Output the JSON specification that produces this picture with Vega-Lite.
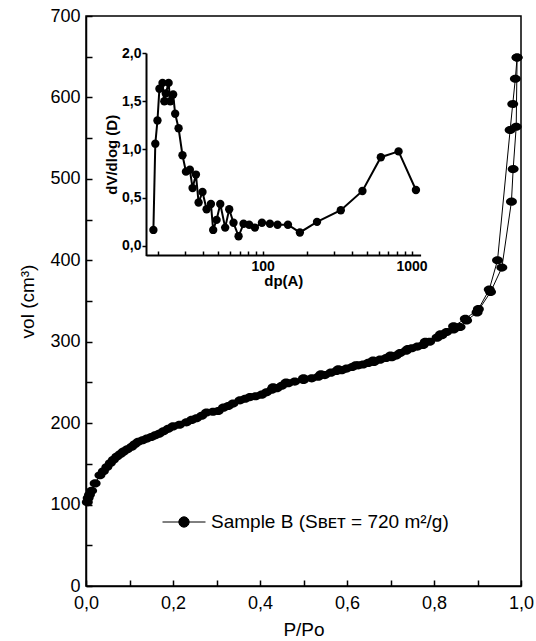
{
  "$schema": "https://vega.github.io/schema/vega-lite/v6.json",
  "autosize": "none",
  "width": 435,
  "height": 570,
  "padding": {"left": 86, "top": 16, "right": 15, "bottom": 55},
  "background": "white",
  "config": {
    "view": {"stroke": "black", "strokeWidth": 1.5},
    "font": "Liberation Sans",
    "axis": {"grid": false, "domainColor": "black", "tickColor": "black", "labelColor": "black", "titleColor": "black"}
  },
  "datasets": {
    "iso": [
      {"branch": "ads", "p": 0.003, "v": 103},
      {"branch": "ads", "p": 0.005, "v": 108},
      {"branch": "ads", "p": 0.008, "v": 112},
      {"branch": "ads", "p": 0.013, "v": 117},
      {"branch": "ads", "p": 0.021, "v": 126},
      {"branch": "ads", "p": 0.032, "v": 136},
      {"branch": "ads", "p": 0.040, "v": 141},
      {"branch": "ads", "p": 0.048, "v": 146},
      {"branch": "ads", "p": 0.056, "v": 151},
      {"branch": "ads", "p": 0.063, "v": 155},
      {"branch": "ads", "p": 0.071, "v": 159},
      {"branch": "ads", "p": 0.079, "v": 162},
      {"branch": "ads", "p": 0.086, "v": 165},
      {"branch": "ads", "p": 0.095, "v": 168},
      {"branch": "ads", "p": 0.105, "v": 171},
      {"branch": "ads", "p": 0.112, "v": 174},
      {"branch": "ads", "p": 0.120, "v": 177},
      {"branch": "ads", "p": 0.130, "v": 179},
      {"branch": "ads", "p": 0.140, "v": 181},
      {"branch": "ads", "p": 0.150, "v": 183},
      {"branch": "ads", "p": 0.159, "v": 185},
      {"branch": "ads", "p": 0.168, "v": 187},
      {"branch": "ads", "p": 0.178, "v": 190},
      {"branch": "ads", "p": 0.189, "v": 193},
      {"branch": "ads", "p": 0.200, "v": 196},
      {"branch": "ads", "p": 0.215, "v": 198},
      {"branch": "ads", "p": 0.231, "v": 201},
      {"branch": "ads", "p": 0.243, "v": 204},
      {"branch": "ads", "p": 0.254, "v": 206},
      {"branch": "ads", "p": 0.266, "v": 209},
      {"branch": "ads", "p": 0.277, "v": 213},
      {"branch": "ads", "p": 0.292, "v": 214},
      {"branch": "ads", "p": 0.304, "v": 215},
      {"branch": "ads", "p": 0.316, "v": 219},
      {"branch": "ads", "p": 0.327, "v": 221},
      {"branch": "ads", "p": 0.338, "v": 224},
      {"branch": "ads", "p": 0.354, "v": 228},
      {"branch": "ads", "p": 0.366, "v": 230},
      {"branch": "ads", "p": 0.377, "v": 232},
      {"branch": "ads", "p": 0.390, "v": 233},
      {"branch": "ads", "p": 0.404, "v": 235},
      {"branch": "ads", "p": 0.415, "v": 238},
      {"branch": "ads", "p": 0.427, "v": 241},
      {"branch": "ads", "p": 0.439, "v": 243},
      {"branch": "ads", "p": 0.450, "v": 246},
      {"branch": "ads", "p": 0.465, "v": 249},
      {"branch": "ads", "p": 0.480, "v": 251},
      {"branch": "ads", "p": 0.500, "v": 253},
      {"branch": "ads", "p": 0.519, "v": 255},
      {"branch": "ads", "p": 0.534, "v": 257},
      {"branch": "ads", "p": 0.549, "v": 259},
      {"branch": "ads", "p": 0.563, "v": 262},
      {"branch": "ads", "p": 0.576, "v": 264},
      {"branch": "ads", "p": 0.588, "v": 265},
      {"branch": "ads", "p": 0.599, "v": 267},
      {"branch": "ads", "p": 0.612, "v": 269},
      {"branch": "ads", "p": 0.626, "v": 271},
      {"branch": "ads", "p": 0.637, "v": 272},
      {"branch": "ads", "p": 0.649, "v": 274},
      {"branch": "ads", "p": 0.662, "v": 275},
      {"branch": "ads", "p": 0.676, "v": 278},
      {"branch": "ads", "p": 0.690, "v": 280},
      {"branch": "ads", "p": 0.703, "v": 281},
      {"branch": "ads", "p": 0.713, "v": 283},
      {"branch": "ads", "p": 0.722, "v": 286},
      {"branch": "ads", "p": 0.736, "v": 289},
      {"branch": "ads", "p": 0.749, "v": 292},
      {"branch": "ads", "p": 0.762, "v": 294},
      {"branch": "ads", "p": 0.775, "v": 296},
      {"branch": "ads", "p": 0.790, "v": 300},
      {"branch": "ads", "p": 0.807, "v": 305},
      {"branch": "ads", "p": 0.818, "v": 308},
      {"branch": "ads", "p": 0.829, "v": 312},
      {"branch": "ads", "p": 0.845, "v": 315},
      {"branch": "ads", "p": 0.860, "v": 318},
      {"branch": "ads", "p": 0.875, "v": 326},
      {"branch": "ads", "p": 0.899, "v": 336},
      {"branch": "ads", "p": 0.930, "v": 361},
      {"branch": "ads", "p": 0.956, "v": 391},
      {"branch": "ads", "p": 0.978, "v": 472},
      {"branch": "ads", "p": 0.982, "v": 512},
      {"branch": "ads", "p": 0.989, "v": 564},
      {"branch": "ads", "p": 0.991, "v": 649},
      {"branch": "des", "p": 0.991, "v": 649},
      {"branch": "des", "p": 0.987, "v": 623},
      {"branch": "des", "p": 0.981, "v": 592},
      {"branch": "des", "p": 0.975, "v": 560},
      {"branch": "des", "p": 0.946, "v": 400},
      {"branch": "des", "p": 0.927, "v": 364},
      {"branch": "des", "p": 0.902, "v": 340},
      {"branch": "des", "p": 0.872, "v": 328},
      {"branch": "des", "p": 0.845, "v": 319},
      {"branch": "des", "p": 0.815, "v": 309},
      {"branch": "des", "p": 0.780, "v": 300},
      {"branch": "des", "p": 0.740, "v": 291},
      {"branch": "des", "p": 0.700, "v": 283},
      {"branch": "des", "p": 0.660, "v": 277},
      {"branch": "des", "p": 0.620, "v": 271},
      {"branch": "des", "p": 0.580, "v": 266},
      {"branch": "des", "p": 0.540, "v": 260},
      {"branch": "des", "p": 0.500, "v": 255},
      {"branch": "des", "p": 0.460, "v": 250},
      {"branch": "des", "p": 0.430, "v": 244}
    ],
    "psd": [
      {"dp": 18.5, "dv": 0.166},
      {"dp": 19.05, "dv": 1.06},
      {"dp": 19.7, "dv": 1.30},
      {"dp": 20.3, "dv": 1.63},
      {"dp": 21.3, "dv": 1.69},
      {"dp": 21.9, "dv": 1.50},
      {"dp": 22.4, "dv": 1.58},
      {"dp": 23.4, "dv": 1.69},
      {"dp": 24.0, "dv": 1.50},
      {"dp": 25.1, "dv": 1.57},
      {"dp": 25.9, "dv": 1.37},
      {"dp": 27.3, "dv": 1.22},
      {"dp": 29.0, "dv": 0.94},
      {"dp": 30.6, "dv": 0.77},
      {"dp": 32.5, "dv": 0.79},
      {"dp": 33.9, "dv": 0.60},
      {"dp": 35.7, "dv": 0.74},
      {"dp": 37.2, "dv": 0.45},
      {"dp": 39.5, "dv": 0.56},
      {"dp": 42.1, "dv": 0.38},
      {"dp": 45.0, "dv": 0.435},
      {"dp": 46.6, "dv": 0.166},
      {"dp": 49.1, "dv": 0.27},
      {"dp": 52.0, "dv": 0.435},
      {"dp": 56.1, "dv": 0.19},
      {"dp": 59.7, "dv": 0.38},
      {"dp": 63.8, "dv": 0.24},
      {"dp": 69.0, "dv": 0.10},
      {"dp": 74.5, "dv": 0.23},
      {"dp": 81.3, "dv": 0.22},
      {"dp": 88.8, "dv": 0.19},
      {"dp": 99.0, "dv": 0.24},
      {"dp": 112, "dv": 0.23},
      {"dp": 126, "dv": 0.22},
      {"dp": 148, "dv": 0.22},
      {"dp": 178, "dv": 0.14},
      {"dp": 232, "dv": 0.25},
      {"dp": 335, "dv": 0.37},
      {"dp": 468, "dv": 0.57},
      {"dp": 622, "dv": 0.92},
      {"dp": 818, "dv": 0.98},
      {"dp": 1070, "dv": 0.58}
    ]
  },
  "layer": [
    {
      "data": {"name": "iso"},
      "mark": {"type": "line", "strokeWidth": 1, "point": {"filled": true, "size": 120, "shape": "M-1,0A1,0.74 0 1,0 1,0A1,0.74 0 1,0 -1,0Z", "opacity": 1}},
      "encoding": {
        "x": {
          "field": "p", "type": "quantitative",
          "scale": {"domain": [0, 1], "nice": false, "zero": false},
          "axis": {
            "title": "P/Po",
            "values": [0, 0.1, 0.2, 0.3, 0.4, 0.5, 0.6, 0.7, 0.8, 0.9, 1.0],
            "labelExpr": "(round(datum.value*10) % 2 == 0) ? replace(format(datum.value, '.1f'), '.', ',') : ''",
            "tickSize": -6, "tickWidth": 1.5, "domainWidth": 1.5,
            "labelPadding": 14, "labelFontSize": 18, "labelFlush": false,
            "titleFontSize": 19, "titleFontWeight": "normal", "titlePadding": 8
          }
        },
        "y": {
          "field": "v", "type": "quantitative",
          "scale": {"domain": [0, 700], "nice": false},
          "axis": {
            "title": "vol (cm³)",
            "values": [0, 50, 100, 150, 200, 250, 300, 350, 400, 450, 500, 550, 600, 650, 700],
            "labelExpr": "datum.value % 100 == 0 ? datum.label : ''",
            "format": "d",
            "tickSize": -6, "tickWidth": 1.5, "domainWidth": 1.5,
            "labelPadding": 12, "labelFontSize": 18, "labelFlush": false,
            "titleFontSize": 19, "titleFontWeight": "normal", "titlePadding": 12
          }
        },
        "detail": {"field": "branch", "type": "nominal"},
        "color": {
          "datum": "Sample B (Sʙᴇᴛ = 720 m²/g)", "type": "nominal",
          "scale": {"range": ["black"]},
          "legend": {
            "orient": "none", "legendX": 76, "legendY": 484, "title": null, "padding": 0,
            "symbolType": "M-1,0H1M-0.24,0A0.24,0.24 0 1,0 0.24,0A0.24,0.24 0 1,0 -0.24,0Z",
            "symbolSize": 1849, "symbolFillColor": "black", "symbolStrokeColor": "black", "symbolStrokeWidth": 1,
            "labelFontSize": 19, "labelOffset": 5, "labelFont": "Liberation Sans", "labelColor": "black", "labelLimit": 400
          }
        }
      }
    },
    {
      "data": {"name": "psd"},
      "mark": {"type": "line", "color": "black", "strokeWidth": 2, "point": {"filled": true, "size": 70, "color": "black", "opacity": 1}},
      "encoding": {
        "x": {
          "field": "dp", "type": "quantitative",
          "scale": {"type": "log", "domain": [16.5, 1150], "range": [60, 334.6], "nice": false},
          "axis": {
            "orient": "bottom", "offset": -331, "title": "dp(A)",
            "values": [20, 30, 40, 50, 60, 70, 80, 90, 100, 200, 300, 400, 500, 600, 700, 800, 900, 1000],
            "labelExpr": "(datum.value == 100 || datum.value == 1000) ? format(datum.value, 'd') : ''",
            "tickSize": -4, "tickWidth": 1.5, "domainWidth": 2,
            "labelPadding": 8, "labelFontSize": 14, "labelFontWeight": "bold", "labelFlush": false,
            "titleFontSize": 15, "titleFontWeight": "bold", "titlePadding": 0
          }
        },
        "y": {
          "field": "dv", "type": "quantitative",
          "scale": {"domain": [-0.1, 2.0], "range": [239.6, 37], "nice": false, "zero": false},
          "axis": {
            "orient": "left", "offset": -60, "title": "dV/dlog (D)",
            "values": [0, 0.5, 1, 1.5, 2],
            "labelExpr": "replace(format(datum.value, '.1f'), '.', ',')",
            "tickSize": 4, "tickWidth": 1.5, "domainWidth": 2,
            "labelPadding": 1, "labelFontSize": 14, "labelFontWeight": "bold", "labelFlush": false,
            "titleFontSize": 15, "titleFontWeight": "bold", "titlePadding": 2
          }
        }
      }
    }
  ],
  "resolve": {"scale": {"x": "independent", "y": "independent"}, "axis": {"x": "independent", "y": "independent"}}
}
